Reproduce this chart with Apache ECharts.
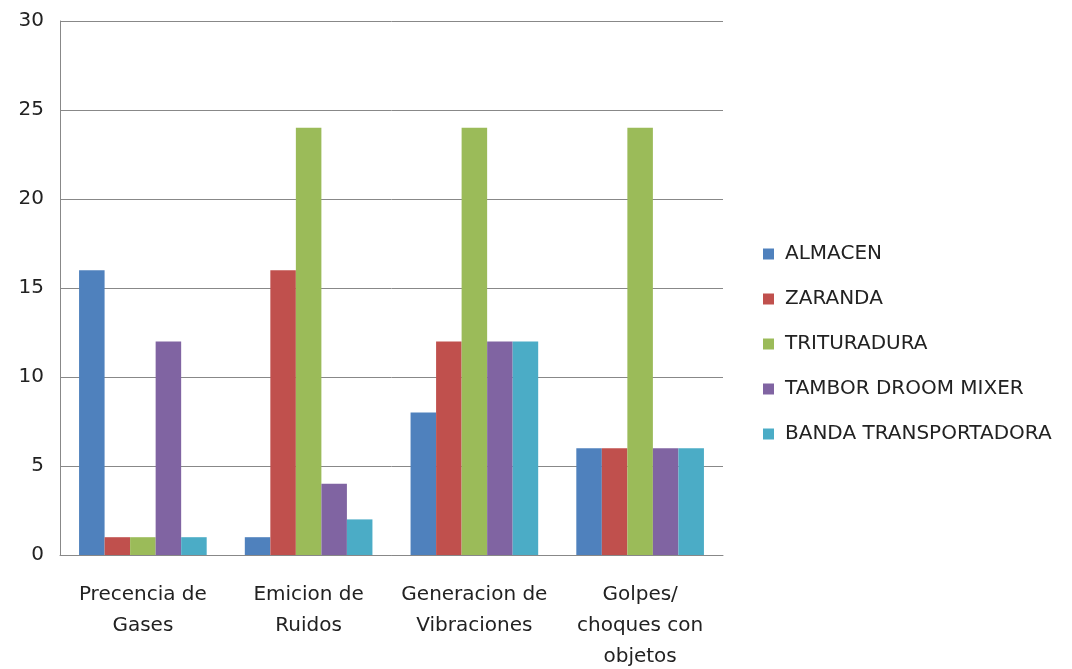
<!DOCTYPE html>
<html>
<head>
<meta charset="utf-8">
<script src="https://cdn.jsdelivr.net/npm/echarts@6/dist/echarts.min.js"></script>
<style>
  html, body { margin: 0; padding: 0; background: #fff; }
  #chart { width: 1072px; height: 669px; }
</style>
</head>
<body>
<div id="chart"></div>
<script>
const categories = [
  "Precencia de\nGases",
  "Emicion de\nRuidos",
  "Generacion de\nVibraciones",
  "Golpes/\nchoques con\nobjetos"
];
const seriesNames = ["ALMACEN", "ZARANDA", "TRITURADURA", "TAMBOR DROOM MIXER", "BANDA TRANSPORTADORA"];
const almacen = [16, 1, 8, 6];
const zaranda = [1, 16, 12, 6];
const trituradura = [1, 24, 24, 24];
const tambor = [12, 4, 12, 6];
const banda = [1, 2, 12, 6];
const colors = ["#4F81BD", "#C0504D", "#9BBB59", "#8064A2", "#4BACC6"];

const values = [almacen, zaranda, trituradura, tambor, banda];
const font = "'DejaVu Sans', sans-serif";

const chart = echarts.init(document.getElementById("chart"));
chart.setOption({
  animation: false,
  color: colors,
  textStyle: { fontFamily: font },
  grid: { left: 60, right: 349, top: 21, bottom: 114, containLabel: false, outerBoundsMode: "none" },
  legend: {
    orient: "vertical",
    left: 758,
    top: 239,
    itemWidth: 11,
    itemHeight: 11,
    itemGap: 25,
    icon: "rect",
    textStyle: { fontSize: 20, lineHeight: 20, color: "#222", fontFamily: font, padding: [0, 0, 0, 6] },
    data: seriesNames
  },
  xAxis: {
    type: "category",
    data: categories,
    axisLine: { lineStyle: { color: "#888" } },
    axisTick: { show: false },
    axisLabel: { fontSize: 20, color: "#222", lineHeight: 31, margin: 24, interval: 0 }
  },
  yAxis: {
    type: "value",
    min: 0,
    max: 30,
    interval: 5,
    axisLine: { show: true, lineStyle: { color: "#888" } },
    axisTick: { show: false },
    splitLine: { lineStyle: { color: "#888" } },
    axisLabel: { fontSize: 20, color: "#222", margin: 16 }
  },
  series: seriesNames.map((name, i) => ({
    name: name,
    type: "bar",
    data: values[i],
    barGap: "0%",
    barCategoryGap: "23%"
  }))
});
</script>
</body>
</html>
